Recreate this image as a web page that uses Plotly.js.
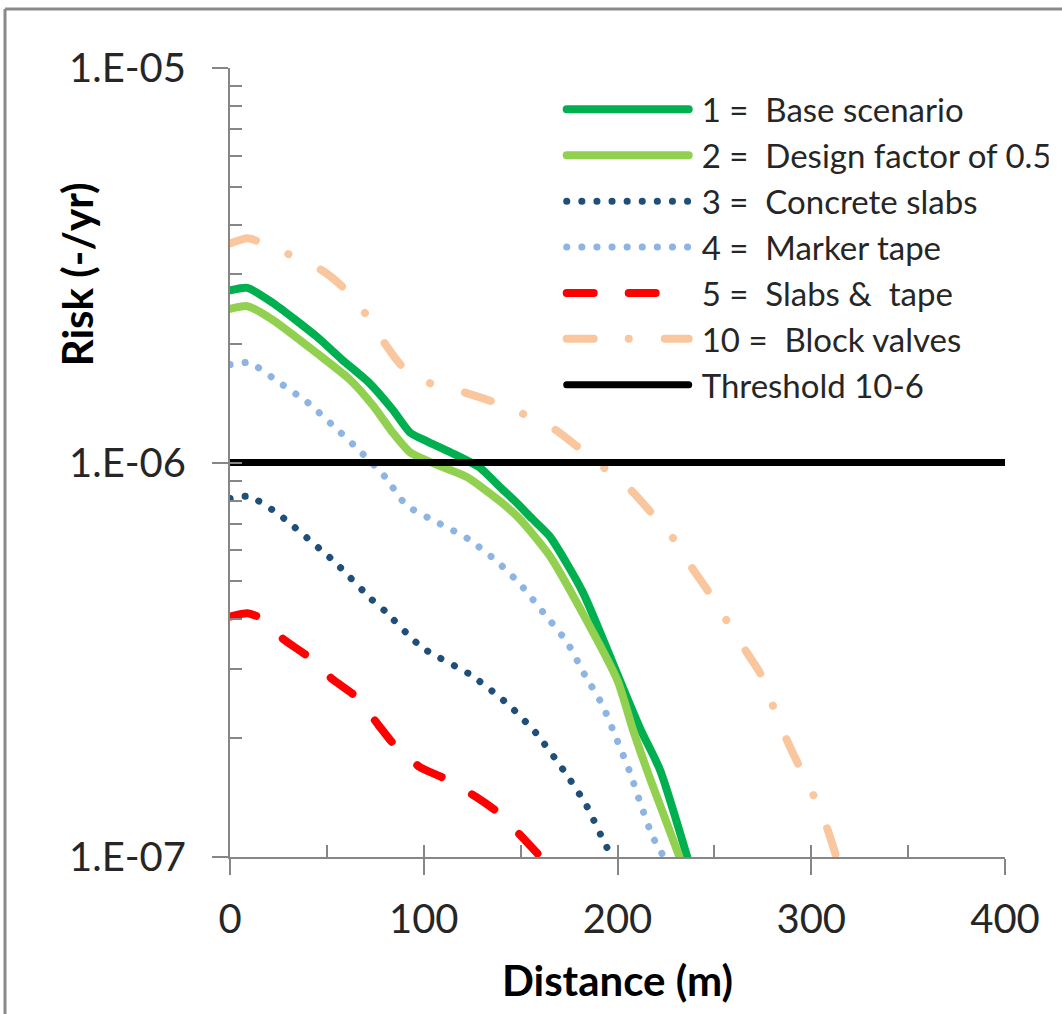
<!DOCTYPE html>
<html>
<head>
<meta charset="utf-8">
<script src="https://cdn.plot.ly/plotly-3.0.1.min.js"></script>
<style>
html,body{margin:0;padding:0;background:#fff;}
#chart{width:1062px;height:1014px;}
path.js-line{stroke-linecap:round;stroke-linejoin:round;}
.legendtext{transform:translateX(8px);}
</style>
</head>
<body>
<div id="chart"></div>
<script>
// ---- data ----
const seriesNames = ["1 =  Base scenario","2 =  Design factor of 0.5","3 =  Concrete slabs","4 =  Marker tape","5 =  Slabs &  tape","10 =  Block valves","Threshold 10-6"];

const baseX = [0,9,22,45,58,72,84,93,102,114,129,139,148,156,165,182,200,212,222,236];
const baseY = [2.73e-6,2.77e-6,2.54e-6,2.08e-6,1.82e-6,1.59e-6,1.36e-6,1.19e-6,1.13e-6,1.06e-6,9.7e-7,8.7e-7,7.9e-7,7.2e-7,6.5e-7,4.7e-7,2.9e-7,2.1e-7,1.66e-7,1.0e-7];

const designX = [0,9,22,45,62,74,84,93,105,122,139,150,165,182,200,208,217,232];
const designY = [2.45e-6,2.49e-6,2.30e-6,1.89e-6,1.62e-6,1.39e-6,1.19e-6,1.06e-6,9.95e-7,9.2e-7,8.0e-7,7.15e-7,5.8e-7,4.15e-7,2.8e-7,2.1e-7,1.57e-7,1.0e-7];

const slabsX = [0,10,25,47,54,73,80,99,124,138,145,158,174,184,192,197];
const slabsY = [8.1e-7,8.2e-7,7.4e-7,6.0e-7,5.6e-7,4.5e-7,4.2e-7,3.4e-7,2.9e-7,2.57e-7,2.4e-7,2.06e-7,1.61e-7,1.35e-7,1.12e-7,1.0e-7];

const tapeX = [0,10,25,40,54,67,80,91,107,123,138,150,162,174,183,192,199,206,212,218,224];
const tapeY = [1.77e-6,1.79e-6,1.60e-6,1.42e-6,1.23e-6,1.07e-6,9.2e-7,7.8e-7,7.05e-7,6.4e-7,5.6e-7,4.9e-7,4.15e-7,3.5e-7,2.9e-7,2.44e-7,2.02e-7,1.66e-7,1.36e-7,1.13e-7,1.0e-7];

const slabsTapeX = [0,9,15,28,40,53,65,76,85,98,111,127,139,151,162];
const slabsTapeY = [4.07e-7,4.15e-7,4.05e-7,3.55e-7,3.23e-7,2.82e-7,2.55e-7,2.18e-7,1.92e-7,1.69e-7,1.58e-7,1.42e-7,1.29e-7,1.12e-7,9.8e-8];

const valvesX = [0,9,15,31,47,58,70,80,89,103,120,135,151,168,179,193,207,217,229,238,247,256,265,274,280,287,293,301,308,313];
const valvesY = [3.59e-6,3.70e-6,3.63e-6,3.36e-6,3.08e-6,2.79e-6,2.38e-6,2.0e-6,1.75e-6,1.59e-6,1.51e-6,1.43e-6,1.33e-6,1.21e-6,1.10e-6,9.7e-7,8.5e-7,7.5e-7,6.4e-7,5.45e-7,4.7e-7,4.0e-7,3.4e-7,2.9e-7,2.43e-7,2.0e-7,1.73e-7,1.44e-7,1.19e-7,1.0e-7];

const thresholdX = [0,400];
const thresholdY = [1e-6,1e-6];

const yTickVals = [1e-7,1e-6,1e-5];
const yTickText = ["1.E-07","1.E-06","1.E-05"];
const xTickVals = [0,100,200,300,400];

// ---- traces ----
function tr(x,y,name,color,width,dash,group){
  return {x:x,y:y,name:name,type:'scatter',mode:'lines',legendgroup:group,
    line:{color:color,width:width,dash:dash,shape:'spline',smoothing:0.6},hoverinfo:'skip'};
}
const data = [
  tr(baseX,baseY,seriesNames[0],'#00B050',8,'solid','g1'),
  tr(designX,designY,seriesNames[1],'#92D050',8,'solid','g2'),
  tr(slabsX,slabsY,seriesNames[2],'#1F4E79',7,'0.1px,15px','g3'),
  tr(tapeX,tapeY,seriesNames[3],'#8DB4E2',7,'0.1px,15px','g4'),
  tr(slabsTapeX,slabsTapeY,seriesNames[4],'#FF0000',8,'27px,35px','g5'),
  tr(valvesX,valvesY,seriesNames[5],'#FAC69E',8,'27px,35px,0.1px,36px','g6'),
  {x:thresholdX,y:thresholdY,name:seriesNames[6],type:'scatter',mode:'lines',legendgroup:'g7',
    xaxis:'x2',yaxis:'y2',line:{color:'#000000',width:7},hoverinfo:'skip'}
];

const FONT = 'Lato, "Open Sans", sans-serif';
const axisGray = '#868686';

const layout = {
  width:1062,height:1014,
  margin:{l:230,r:57,t:68,b:157,autoexpand:false},
  paper_bgcolor:'#ffffff',plot_bgcolor:'#ffffff',
  font:{family:FONT,color:'#262626'},
  showlegend:true,
  legend:{x:0.428,y:0.983,xanchor:'left',yanchor:'top',bgcolor:'rgba(0,0,0,0)',
    font:{family:FONT,size:33,color:'#262626'},itemwidth:122,
    traceorder:'grouped',tracegroupgap:0},
  xaxis:{type:'linear',range:[0,400],showgrid:false,zeroline:false,
    showline:true,linecolor:axisGray,linewidth:2,
    tickmode:'array',tickvals:xTickVals,ticks:'outside',ticklen:16,tickwidth:2,tickcolor:axisGray,
    tickfont:{family:FONT,size:40,color:'#262626'},ticklabelstandoff:10,
    title:{text:'<b>Distance (m)</b>',font:{family:FONT,size:42,color:'#000'},standoff:26},
    automargin:false},
  yaxis:{type:'log',range:[-7,-5],showgrid:false,zeroline:false,
    showline:true,linecolor:axisGray,linewidth:2,
    tickmode:'array',tickvals:yTickVals,ticktext:yTickText,ticks:'outside',ticklen:16,tickwidth:2,tickcolor:axisGray,
    tickfont:{family:FONT,size:40,color:'#262626'},ticklabelstandoff:18,
    automargin:false},
  xaxis2:{overlaying:'x',anchor:'y2',range:[0,400],tickmode:'linear',tick0:0,dtick:50,
    ticks:'inside',ticklen:12,tickwidth:2,tickcolor:axisGray,showticklabels:false,
    showgrid:false,zeroline:false,showline:false,side:'bottom'},
  yaxis2:{overlaying:'y',anchor:'x2',type:'log',range:[-7,-5],dtick:'D1',
    ticks:'inside',ticklen:12,tickwidth:2,tickcolor:axisGray,showticklabels:false,
    showgrid:false,zeroline:false,showline:false,side:'left'},
  annotations:[
    {text:'<b>Risk (-/yr)</b>',xref:'paper',yref:'paper',x:-0.198,y:0.738,textangle:-90,
     showarrow:false,xanchor:'center',yanchor:'middle',font:{family:FONT,size:42,color:'#000'}}
  ],
  shapes:[
    {type:'line',xref:'paper',yref:'paper',x0:-0.2903,x1:1.08,y0:1.0748,y1:1.0748,line:{color:'#8a8a8a',width:3}},
    {type:'line',xref:'paper',yref:'paper',x0:-0.2903,x1:-0.2903,y0:1.0748,y1:-0.21,line:{color:'#8a8a8a',width:3}}
  ]
};

Plotly.newPlot('chart',data,layout,{displayModeBar:false,staticPlot:true});
</script>
</body>
</html>
